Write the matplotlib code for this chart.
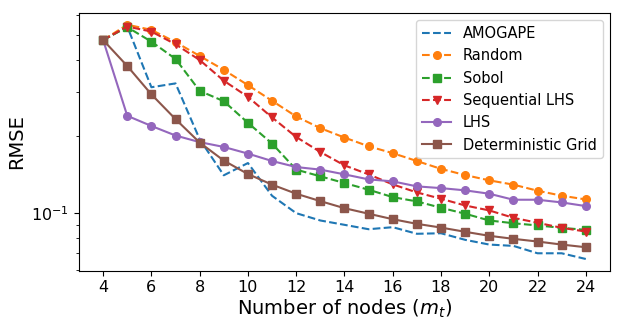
import numpy as np
import matplotlib
matplotlib.use("Agg")
import matplotlib.pyplot as plt

nodes = list(range(4, 25))

amogape = [0.478, 0.54, 0.312, 0.323, 0.195, 0.1408, 0.1573, 0.117, 0.100, 0.0936,
           0.090, 0.0865, 0.0881, 0.083, 0.0834, 0.0786, 0.0753, 0.0744, 0.0696, 0.0696, 0.0661]
random_ = [0.478, 0.549, 0.524, 0.469, 0.414, 0.365, 0.318, 0.276, 0.2396, 0.2156,
           0.198, 0.183, 0.172, 0.1602, 0.1492, 0.1411, 0.1345, 0.1294, 0.1225, 0.1171, 0.1132]
sobol = [0.478, 0.537, 0.471, 0.403, 0.302, 0.275, 0.2262, 0.1876, 0.1482, 0.1395,
         0.1313, 0.1236, 0.1156, 0.1112, 0.105, 0.0995, 0.0936, 0.0913, 0.0895, 0.0876, 0.086]
seq_lhs = [0.478, 0.540, 0.516, 0.460, 0.399, 0.331, 0.286, 0.2375, 0.199, 0.1738,
           0.154, 0.142, 0.1297, 0.1206, 0.1139, 0.1072, 0.1025, 0.0959, 0.0917, 0.0876, 0.0847]
lhs = [0.478, 0.241, 0.2199, 0.2017, 0.190, 0.1819, 0.1713, 0.1602, 0.1517, 0.1482,
       0.142, 0.1357, 0.1333, 0.1274, 0.1254, 0.1229, 0.1192, 0.1129, 0.1129, 0.1102, 0.1066]
det_grid = [0.478, 0.378, 0.2925, 0.2339, 0.1893, 0.1608, 0.1424, 0.1294, 0.1192, 0.1115,
            0.1046, 0.0995, 0.0947, 0.0908, 0.0878, 0.0845, 0.0815, 0.0793, 0.0774, 0.0753, 0.0735]

fig = plt.figure(figsize=(6.23, 3.28), dpi=100)
ax = fig.add_axes([0.1268, 0.1747, 0.8522, 0.7857])

ax.plot(nodes, amogape, "--", color="C0", label="AMOGAPE")
ax.plot(nodes, random_, "--o", color="C1", ms=5.5, label="Random")
ax.plot(nodes, sobol, "--s", color="C2", ms=5.5, label="Sobol")
ax.plot(nodes, seq_lhs, "--v", color="C3", ms=6, label="Sequential LHS")
ax.plot(nodes, lhs, "-o", color="C4", ms=5.5, label="LHS")
ax.plot(nodes, det_grid, "-s", color="C5", ms=5.5, label="Deterministic Grid")

ax.set_yscale("log")
ax.set_xticks(range(4, 25, 2))
ax.tick_params(axis="both", labelsize=11.5)
ax.set_xlabel("Number of nodes ($m_t$)", fontsize=14, labelpad=2)
ax.set_ylabel("RMSE", fontsize=14, labelpad=4)
ax.legend(loc="upper right", fontsize=10.5)

fig.savefig("out.png", dpi=100)
